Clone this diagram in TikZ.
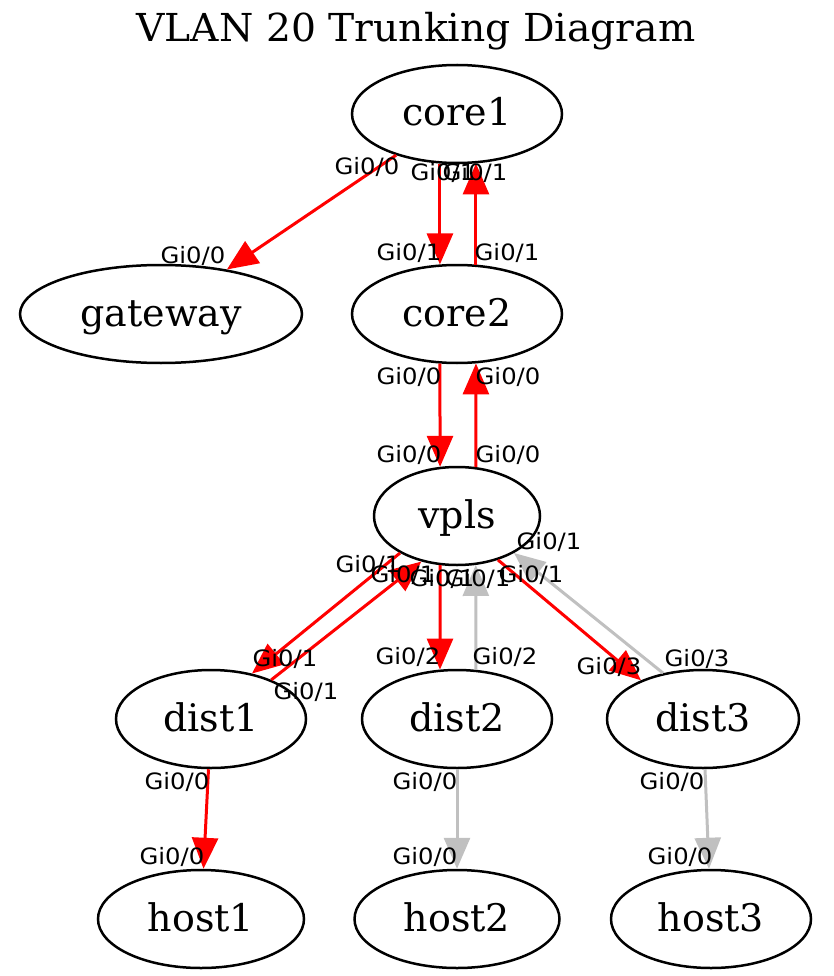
\documentclass[tikz,border=0pt]{standalone}
\usepackage{fontspec}
\setmainfont{DejaVu Serif}
\newfontfamily\lblfont{DejaVu Sans}[FakeStretch=1.08]
\newfontfamily\ttlfont{DejaVu Serif}[FakeStretch=1.02]
\usetikzlibrary{shapes.geometric,arrows.meta}
\definecolor{edgegray}{HTML}{C0C0C0}
\begin{document}
\begin{tikzpicture}[x=1pt,y=-1pt,
  nd/.style={ellipse,draw=black,line width=2.5pt,inner sep=0pt,minimum height=98pt,
    text height=30pt,text depth=6pt,font=\fontsize{38}{44}\selectfont},
  lbl/.style={inner sep=0pt,text height=16pt,text depth=0pt,font=\lblfont\fontsize{22.5}{26}\selectfont,text=black},
  ttl/.style={inner sep=0pt,text height=28pt,text depth=0pt,font=\ttlfont\fontsize{38.5}{44}\selectfont,text=black},
  redge/.style={draw=red,line width=3pt,-{Triangle[length=31pt,width=26pt]}},
  gedge/.style={draw=edgegray,line width=3pt,-{Triangle[length=31pt,width=26pt]}}]
\useasboundingbox (0,0) rectangle (833,976);
\node[ttl] (title) at (416,28) {VLAN 20 Trunking Diagram};
\node[nd,minimum width=210pt] (core1) at (457,114) {core1};
\node[nd,minimum width=282pt] (gateway) at (161,314) {gateway};
\node[nd,minimum width=210pt] (core2) at (457,314) {core2};
\node[nd,minimum width=166pt] (vpls) at (457,516) {vpls};
\node[nd,minimum width=190pt] (dist1) at (211,719) {dist1};
\node[nd,minimum width=190pt] (dist2) at (457,719) {dist2};
\node[nd,minimum width=192pt] (dist3) at (703,719) {dist3};
\node[nd,minimum width=206pt] (host1) at (201,919) {host1};
\node[nd,minimum width=205pt] (host2) at (457,919) {host2};
\node[nd,minimum width=200pt] (host3) at (711,919) {host3};
% edges
\draw[redge] (core1) -- (gateway);
\draw[redge] (core1.-109.4) -- (core2.109.4);
\draw[redge] (core2.69.5) -- (core1.-69.5);
\draw[redge] (core2.-109.4) -- (vpls.109.5);
\draw[redge] (vpls.69.4) -- (core2.-69.5);
\draw[redge] (vpls.-147) -- (dist1.48.3);
\draw[redge] (dist1.33.3) -- (vpls.-128.8);
\draw[redge] (vpls.-109.5) -- (dist2.109.4);
\draw[gedge] (dist2.69.5) -- (vpls.-69.4);
\draw[redge] (vpls.-47.1) -- (dist3.148.3);
\draw[gedge] (dist3.131.9) -- (vpls.-33);
\draw[redge] (dist1) -- (host1);
\draw[gedge] (dist2) -- (host2);
\draw[gedge] (dist3) -- (host3);
% port labels
\node[lbl] (l1) at (367,167) {Gi0/0};
\node[lbl] (l2) at (193,255) {Gi0/0};
\node[lbl] (l3) at (443,173) {Gi0/1};
\node[lbl] (l4) at (409,252) {Gi0/1};
\node[lbl] (l5) at (507,252) {Gi0/1};
\node[lbl] (l6) at (475,173) {Gi0/1};
\node[lbl] (l7) at (409,376) {Gi0/0};
\node[lbl] (l8) at (409,454) {Gi0/0};
\node[lbl] (l9) at (508,454) {Gi0/0};
\node[lbl] (l10) at (508,376) {Gi0/0};
\node[lbl] (l11) at (368,564) {Gi0/1};
\node[lbl] (l12) at (285,658) {Gi0/1};
\node[lbl] (l13) at (306,691) {Gi0/1};
\node[lbl] (l14) at (403,574) {Gi0/1};
\node[lbl] (l15) at (442,578) {Gi0/1};
\node[lbl] (l16) at (408,656) {Gi0/2};
\node[lbl] (l17) at (505,656) {Gi0/2};
\node[lbl] (l18) at (478,578) {Gi0/1};
\node[lbl] (l19) at (531,574) {Gi0/1};
\node[lbl] (l20) at (609,666) {Gi0/3};
\node[lbl] (l21) at (697,658) {Gi0/3};
\node[lbl] (l22) at (549,541) {Gi0/1};
\node[lbl] (l23) at (177,781) {Gi0/0};
\node[lbl] (l24) at (172,856) {Gi0/0};
\node[lbl] (l25) at (425,781) {Gi0/0};
\node[lbl] (l26) at (425,856) {Gi0/0};
\node[lbl] (l27) at (672,781) {Gi0/0};
\node[lbl] (l28) at (680,856) {Gi0/0};
\end{tikzpicture}
\end{document}
